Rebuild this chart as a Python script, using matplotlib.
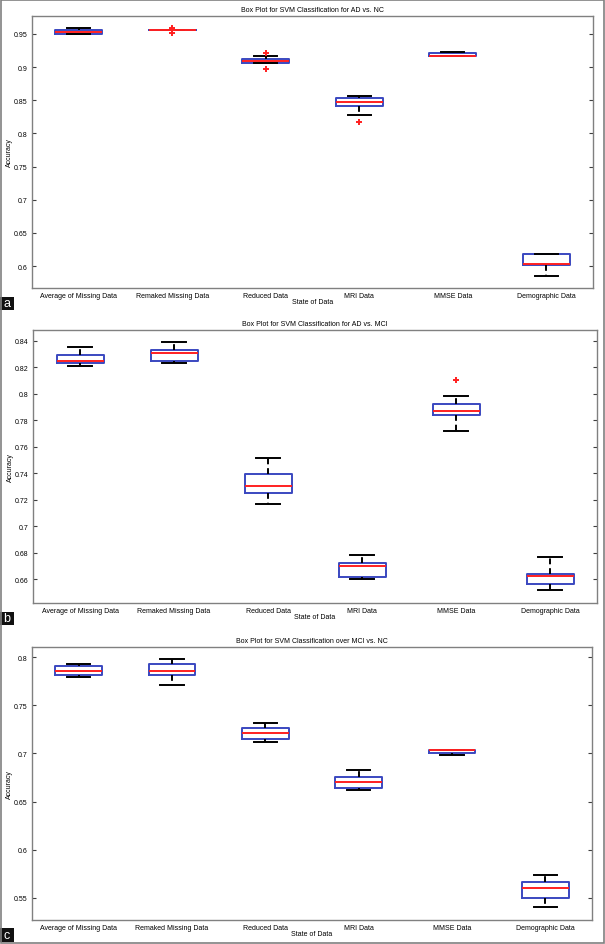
import matplotlib
matplotlib.use("Agg")
import matplotlib.pyplot as plt
from matplotlib.patches import Rectangle

plt.rcParams['font.family'] = ['Liberation Sans', 'DejaVu Sans']

categories = ["Average of Missing Data", "Remaked Missing Data", "Reduced Data",
              "MRI Data", "MMSE Data", "Demographic Data"]

# Panel a: AD vs. NC
a_title = "Box Plot for SVM Classification for AD vs. NC"
a_q1 = [0.9505, 0.9560, 0.9062, 0.8417, 0.9163, 0.6017]
a_med = [0.9530, 0.9560, 0.9090, 0.8473, 0.9173, 0.6035]
a_q3 = [0.9560, 0.9560, 0.9117, 0.8533, 0.9208, 0.6177]
a_lo = [0.9505, 0.9560, 0.9062, 0.8282, 0.9163, 0.5857]
a_hi = [0.9586, 0.9560, 0.9168, 0.8560, 0.9233, 0.6177]
a_fliers = [[], [0.9586, 0.9575, 0.9518], [0.9213, 0.8970], [0.8170], [], []]
a_ticks = [0.6, 0.65, 0.7, 0.75, 0.8, 0.85, 0.9, 0.95]
a_ticklabels = ["0.6", "0.65", "0.7", "0.75", "0.8", "0.85", "0.9", "0.95"]
a_ylim = (0.567, 0.977)

# Panel b: AD vs. MCI
b_title = "Box Plot for SVM Classification for AD vs. MCI"
b_q1 = [0.8231, 0.8249, 0.7249, 0.6620, 0.7838, 0.6560]
b_med = [0.8251, 0.8312, 0.7302, 0.6703, 0.7874, 0.6622]
b_q3 = [0.8292, 0.8332, 0.7395, 0.6726, 0.7924, 0.6640]
b_lo = [0.8211, 0.8231, 0.7169, 0.6600, 0.7720, 0.6519]
b_hi = [0.8355, 0.8392, 0.7514, 0.6786, 0.7985, 0.6766]
b_fliers = [[], [], [], [], [0.8105], []]
b_ticks = [0.66, 0.68, 0.70, 0.72, 0.74, 0.76, 0.78, 0.80, 0.82, 0.84]
b_ticklabels = ["0.66", "0.68", "0.7", "0.72", "0.74", "0.76", "0.78", "0.8", "0.82", "0.84"]
b_ylim = (0.642, 0.8483)

# Panel c: MCI vs. NC
c_title = "Box Plot for SVM Classification over MCI vs. NC"
c_q1 = [0.7816, 0.7816, 0.7152, 0.6636, 0.7006, 0.5493]
c_med = [0.7858, 0.7858, 0.7210, 0.6705, 0.7037, 0.5604]
c_q3 = [0.7913, 0.7931, 0.7266, 0.6750, 0.7041, 0.5659]
c_lo = [0.7799, 0.7709, 0.7120, 0.6622, 0.6989, 0.5403]
c_hi = [0.7934, 0.7986, 0.7321, 0.6823, 0.7041, 0.5735]
c_fliers = [[], [], [], [], [], []]
c_ticks = [0.55, 0.6, 0.65, 0.7, 0.75, 0.8]
c_ticklabels = ["0.55", "0.6", "0.65", "0.7", "0.75", "0.8"]
c_ylim = (0.5268, 0.8107)

panel_letters = ["a", "b", "c"]

W, H = 605, 945
fig = plt.figure(figsize=(W / 100, H / 100), dpi=100)
fig.patch.set_facecolor("white")

# axes rectangles in pixels: left, top, right, bottom
rects = [(32, 17, 593, 289), (33, 331, 597, 604), (32, 648, 592, 921)]
label_boxes = [(298, 311), (613, 626), (929, 943)]

panels = [
    (a_title, a_q1, a_med, a_q3, a_lo, a_hi, a_fliers, a_ticks, a_ticklabels, a_ylim),
    (b_title, b_q1, b_med, b_q3, b_lo, b_hi, b_fliers, b_ticks, b_ticklabels, b_ylim),
    (c_title, c_q1, c_med, c_q3, c_lo, c_hi, c_fliers, c_ticks, c_ticklabels, c_ylim),
]

spine_col = "#808080"
box_col = "#3a48c0"
lw = 1.4

for i, (title, q1, med, q3, lo, hi, fl, ticks, tlabels, ylim) in enumerate(panels):
    l, t, r, b = rects[i]
    ax = fig.add_axes([l / W, 1 - b / H, (r - l) / W, (b - t) / H])
    stats = []
    for k in range(len(categories)):
        stats.append(dict(q1=q1[k], med=med[k], q3=q3[k], whislo=lo[k],
                          whishi=hi[k], fliers=fl[k], label=categories[k]))
    ax.bxp(stats, positions=range(1, 7), widths=0.5, capwidths=0.25,
           boxprops=dict(color=box_col, linewidth=lw),
           medianprops=dict(color="#ff2020", linewidth=lw),
           whiskerprops=dict(color="black", linewidth=lw, linestyle=(0, (3, 2))),
           capprops=dict(color="black", linewidth=lw),
           flierprops=dict(marker="+", markeredgecolor="#ff2020", markersize=4.5,
                           markeredgewidth=1.4, linestyle="none"))
    ax.set_xlim(0.5, 6.5)
    ax.set_ylim(*ylim)
    ax.set_yticks(ticks)
    ax.set_yticklabels(tlabels)
    ax.tick_params(axis="y", direction="in", left=True, right=True, length=3,
                   width=0.8, color="#404040", labelsize=5, pad=3)
    ax.tick_params(axis="x", length=0, labelsize=5, pad=3)
    for s in ax.spines.values():
        s.set_color(spine_col)
        s.set_linewidth(1.0)
    ax.set_title(title, fontsize=5, pad=3.5)
    ax.set_xlabel("State of Data", fontsize=5)
    ax.set_ylabel("Accuracy", fontsize=5)
    ax.xaxis.set_label_coords(0.5, -0.037)
    ax.yaxis.set_label_coords(-0.034, 0.5)

    y0, y1 = label_boxes[i]
    fig.add_artist(Rectangle((0, 1 - y1 / H), 14 / W, (y1 - y0) / H,
                             transform=fig.transFigure, facecolor="#111111",
                             edgecolor="none"))
    fig.text(7 / W, 1 - (y0 + y1) / 2 / H, panel_letters[i], color="white",
             fontsize=9, ha="center", va="center")

# outer frame
fig.add_artist(Rectangle((0.6 / W, 0.6 / H), (W - 1.8) / W, (H - 1.8) / H,
                         transform=fig.transFigure, facecolor="none",
                         edgecolor="#808080", linewidth=1.2))

fig.savefig("out.png", dpi=100)
